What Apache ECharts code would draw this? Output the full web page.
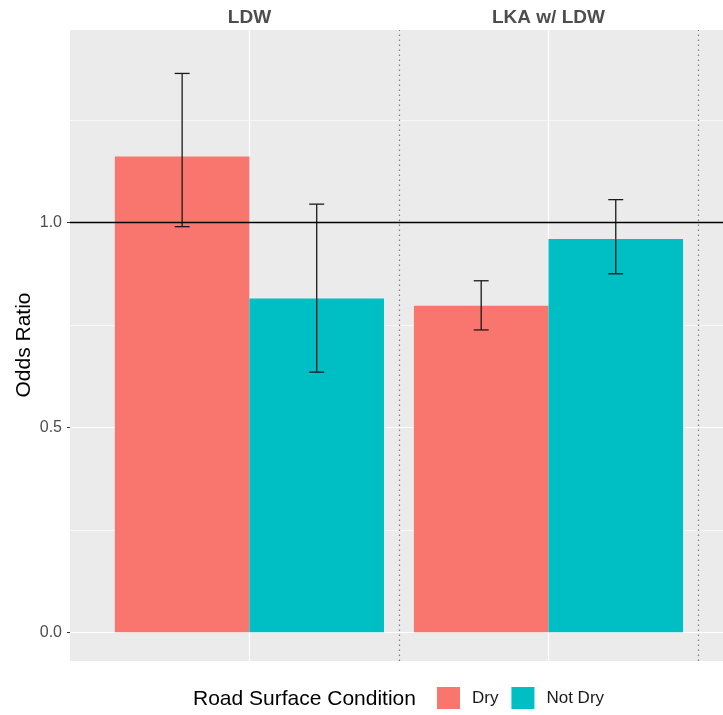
<!DOCTYPE html>
<html>
<head>
<meta charset="utf-8">
<script src="https://cdn.jsdelivr.net/npm/echarts@6/dist/echarts.min.js"></script>
<style>html,body{margin:0;padding:0;background:#fff;}#c{width:723px;height:715px;}</style>
</head>
<body>
<div id="c"></div>
<script>
var categories = ['LDW', 'LKA w/ LDW'];
var groups = ['Dry', 'Not Dry'];
var dryOR = [1.161, 0.797];
var dryLo = [0.990, 0.738];
var dryHi = [1.364, 0.858];
var notDryOR = [0.815, 0.960];
var notDryLo = [0.635, 0.875];
var notDryHi = [1.045, 1.056];
var yTicks = [0, 0.5, 1.0];
var yMinor = [0.25, 0.75, 1.25];
var catPos = [1, 2];
var sepPos = [1.5, 2.5];
var refLine = 1;

var colors = ['#F8766D', '#00BFC4'];
var FONT = 'Liberation Sans, Arial, sans-serif';
var halfBar = 0.225, halfWhisk = 0.025;

function makeData(or, lo, hi) {
  return categories.map(function (c, i) { return [catPos[i], or[i], lo[i], hi[i]]; });
}

function barRender(offset, color) {
  return function (params, api) {
    var x = api.value(0) + offset;
    var p1 = api.coord([x - halfBar, api.value(1)]);
    var p2 = api.coord([x + halfBar, 0]);
    return {
      type: 'rect',
      shape: { x: p1[0], y: p1[1], width: p2[0] - p1[0], height: p2[1] - p1[1] },
      style: { fill: color }
    };
  };
}

function errRender(offset) {
  return function (params, api) {
    var x = api.value(0) + offset;
    var lo = api.value(2), hi = api.value(3);
    var top = api.coord([x, hi]), bot = api.coord([x, lo]);
    var tl = api.coord([x - halfWhisk, hi]), tr = api.coord([x + halfWhisk, hi]);
    var bl = api.coord([x - halfWhisk, lo]), br = api.coord([x + halfWhisk, lo]);
    var st = { stroke: '#1A1A1A', lineWidth: 1.3 };
    return {
      type: 'group',
      children: [
        { type: 'line', shape: { x1: top[0], y1: top[1], x2: bot[0], y2: bot[1] }, style: st },
        { type: 'line', shape: { x1: tl[0], y1: tl[1], x2: tr[0], y2: tr[1] }, style: st },
        { type: 'line', shape: { x1: bl[0], y1: bl[1], x2: br[0], y2: br[1] }, style: st }
      ]
    };
  };
}

var gridLinesData = []
  .concat(yTicks.map(function (v) { return { yAxis: v, lineStyle: { color: '#FFFFFF', width: 1.2, type: 'solid' } }; }))
  .concat(yMinor.map(function (v) { return { yAxis: v, lineStyle: { color: '#FFFFFF', width: 0.6, type: 'solid' } }; }))
  .concat(catPos.map(function (v) { return { xAxis: v, lineStyle: { color: '#FFFFFF', width: 1.2, type: 'solid' } }; }))
  .concat(sepPos.map(function (v) { return { xAxis: v, lineStyle: { color: '#7F7F7F', width: 1.2, type: [1.5, 3.5] } }; }));

var chart = echarts.init(document.getElementById('c'), null, { renderer: 'canvas' });
chart.setOption({
  animation: false,
  backgroundColor: '#FFFFFF',
  textStyle: { fontFamily: FONT },
  grid: { left: 70, top: 30, right: 0, bottom: 54, show: true, backgroundColor: '#EBEBEB', borderWidth: 0, containLabel: false },
  xAxis: {
    type: 'value', position: 'top', min: 0.4, max: 2.5836,
    axisLine: { show: false },
    splitLine: { show: false },
    axisTick: { show: true, length: 3, lineStyle: { color: '#333333', width: 1 }, customValues: catPos },
    axisLabel: {
      customValues: catPos, margin: 3,
      formatter: function (v) { return categories[Math.round(v) - 1]; },
      color: '#4D4D4D', fontSize: 19, fontWeight: 'bold', fontFamily: FONT
    }
  },
  yAxis: {
    type: 'value', min: -0.07, max: 1.47,
    axisLine: { show: false },
    splitLine: { show: false },
    axisTick: { show: true, length: 3, lineStyle: { color: '#333333', width: 1 }, customValues: yTicks },
    axisLabel: {
      customValues: yTicks, margin: 8,
      formatter: function (v) { return v.toFixed(1); },
      color: '#4D4D4D', fontSize: 16, fontFamily: FONT
    }
  },
  legend: {
    data: groups, left: 432, top: 682, orient: 'horizontal',
    icon: 'rect', itemWidth: 23, itemHeight: 22, itemGap: 13,
    selectedMode: false,
    textStyle: { fontSize: 17, color: '#1A1A1A', fontFamily: FONT, padding: [0, 0, 0, 7] }
  },
  graphic: [
    { type: 'text', left: 193, top: 689, style: { text: 'Road Surface Condition', font: '21px ' + FONT, fill: '#000000' } },
    { type: 'text', x: 24, y: 345, rotation: Math.PI / 2, style: { text: 'Odds Ratio', font: '21px ' + FONT, fill: '#000000', textAlign: 'center', textVerticalAlign: 'middle' } }
  ],
  series: [
    {
      type: 'custom', name: 'gridlines', z: 1, silent: true,
      data: [], renderItem: function () { return null; },
      markLine: { z: 1, silent: true, symbol: ['none', 'none'], label: { show: false }, animation: false, data: gridLinesData }
    },
    { type: 'custom', name: 'Dry', z: 2, itemStyle: { color: colors[0] }, data: makeData(dryOR, dryLo, dryHi), renderItem: barRender(-halfBar, colors[0]) },
    { type: 'custom', name: 'Not Dry', z: 2, itemStyle: { color: colors[1] }, data: makeData(notDryOR, notDryLo, notDryHi), renderItem: barRender(halfBar, colors[1]) },
    { type: 'custom', name: 'errDry', z: 3, data: makeData(dryOR, dryLo, dryHi), renderItem: errRender(-halfBar) },
    { type: 'custom', name: 'errNotDry', z: 3, data: makeData(notDryOR, notDryLo, notDryHi), renderItem: errRender(halfBar) },
    {
      type: 'custom', name: 'ref', z: 4, silent: true,
      data: [], renderItem: function () { return null; },
      markLine: { z: 10, silent: true, symbol: ['none', 'none'], label: { show: false }, animation: false, data: [{ yAxis: refLine, lineStyle: { color: '#000000', width: 1.3, type: 'solid' } }] }
    }
  ]
});
</script>
</body>
</html>
